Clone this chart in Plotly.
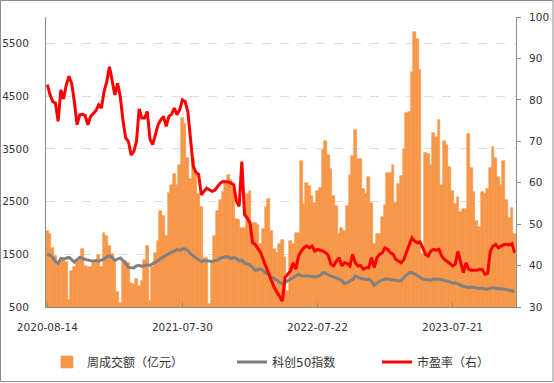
import pandas as pd
import plotly.graph_objects as go

# Weekly trading weeks (Friday-labelled), full-holiday weeks removed
SKIPPED_WEEKS = ["2022-02-04", "2022-10-07", "2023-01-27", "2023-10-06"]
weeks = [d.strftime("%Y-%m-%d") for d in pd.date_range("2020-08-14", "2024-01-05", freq="W-FRI")]
weeks = [w for w in weeks if w not in SKIPPED_WEEKS]

TICK_LABELS = ["2020-08-14", "2021-07-30", "2022-07-22", "2023-07-21"]

# 周成交额（亿元）
turnover = [
    1940, 1880, 1620, 1470, 1340, 1400, 1390, 1360, 640, 1190,
    1250, 1370, 1400, 1600, 1280, 1250, 1260, 1340, 1340, 1490,
    1250, 1910, 1850, 1650, 1510, 1340, 780, 580, 1380, 1380,
    1340, 950, 930, 1030, 900, 1000, 1400, 1650, 620, 1250,
    1530, 1750, 2320, 2230, 1850, 2660, 2820, 3020, 2810, 3200,
    4080, 3980, 3320, 2920, 3300, 3010, 2640, 2400, 1430, 1430,
    560, 1380, 1850, 2320, 2520, 2690, 2850, 3010, 2900, 2750,
    2160, 2150, 2000, 2000, 2650, 2700, 2100, 2100, 2060, 1700,
    1970, 2390, 2540, 1940, 1600, 1530, 1690, 1780, 1440, 800,
    1760, 1690, 1910, 1910, 3260, 2450, 2850, 2790, 2600, 2480,
    2700, 2760, 3480, 3640, 3390, 3120, 2600, 2410, 1880, 2000,
    1940, 2410, 3010, 3370, 3860, 3310, 3310, 2730, 2650, 2970,
    2480, 1690, 1880, 1890, 2200, 2440, 3040, 3040, 3200, 2480,
    2830, 2990, 3500, 4170, 4200, 4960, 5710, 5590, 4990, 1500,
    3420, 3400, 3200, 3800, 3730, 4050, 2820, 3650, 3580, 3160,
    2700, 2460, 2590, 2300, 2350, 2360, 3780, 3140, 2680, 2130,
    2020, 2680, 2650, 2730, 3140, 3530, 3320, 2970, 2820, 3270,
    2520, 2180, 2380, 1890,
]

# 科创50指数
star50 = [
    1500, 1480, 1440, 1360, 1330, 1420, 1410, 1430, 1440, 1400,
    1350, 1400, 1440, 1420, 1400, 1390, 1380, 1370, 1380, 1370,
    1390, 1410, 1450, 1470, 1440, 1380, 1410, 1430, 1380, 1330,
    1250, 1240, 1240, 1280, 1290, 1270, 1280, 1300, 1290, 1320,
    1340, 1380, 1420, 1450, 1490, 1510, 1540, 1560, 1590, 1570,
    1600, 1600, 1570, 1510, 1470, 1420, 1390, 1360, 1380, 1375,
    1370, 1365, 1380, 1390, 1425, 1440, 1455, 1450, 1420, 1437,
    1420, 1375, 1390, 1330, 1310, 1300, 1250, 1190, 1210, 1220,
    1190, 1140, 1120, 1070, 1040, 1000, 970, 940, 960, 1000,
    1030, 1060, 1090, 1120, 1090, 1090, 1100, 1090, 1080, 1070,
    1080, 1100, 1150, 1140, 1110, 1090, 1070, 1060, 1030, 1000,
    940, 960, 990, 1020, 1090, 1060, 1040, 1030, 1020, 1030,
    990, 910, 960, 990, 1010, 1030, 1030, 1020, 1010, 1000,
    1000, 1000, 1060, 1110, 1150, 1150, 1130, 1100, 1060, 1030,
    1020, 1020, 1010, 1030, 1030, 1030, 1020, 1000, 990, 980,
    950, 960, 940, 910, 890, 880, 870, 880, 870, 860,
    850, 860, 840, 840, 860, 870, 850, 850, 840, 840,
    830, 820, 810, 790,
]

# 市盈率（右）
pe = [
    83.7, 81.2, 79.6, 79.2, 74.8, 82.4, 80.2, 83.6, 85.7, 84.0,
    79.6, 74.0, 76.4, 76.5, 76.2, 74.0, 76.0, 76.8, 77.4, 78.8,
    78.0, 82.0, 84.4, 88.0, 84.4, 81.2, 84.0, 80.8, 75.0, 70.8,
    70.0, 66.7, 67.5, 70.0, 77.8, 75.6, 75.6, 77.2, 70.5, 69.2,
    71.6, 74.0, 75.2, 76.0, 73.6, 76.0, 76.5, 78.0, 76.4, 77.6,
    80.0, 79.6, 77.2, 70.0, 64.0, 62.5, 62.0, 57.1, 58.0, 58.7,
    58.3, 57.9, 58.2, 59.1, 59.9, 60.3, 60.3, 60.2, 59.9, 59.5,
    55.5, 54.3, 65.1, 52.3, 51.5, 50.3, 45.5, 45.1, 44.0, 43.1,
    41.3, 39.5, 37.9, 36.3, 34.7, 33.5, 32.3, 31.4, 37.1, 37.9,
    38.7, 40.7, 39.1, 42.3, 43.5, 44.3, 44.7, 44.3, 44.7, 43.5,
    43.9, 43.7, 43.5, 43.1, 42.5, 40.3, 39.9, 41.1, 41.9, 39.9,
    40.7, 40.5, 39.9, 42.7, 40.7, 39.9, 40.0, 39.1, 39.5, 39.5,
    41.9, 39.5, 41.9, 42.7, 43.1, 44.3, 43.9, 43.1, 42.7, 41.5,
    41.1, 40.7, 41.5, 43.5, 45.1, 46.7, 45.9, 45.5, 45.7, 44.3,
    42.7, 42.3, 43.5, 43.9, 43.7, 43.9, 42.3, 41.5, 41.1, 40.5,
    39.9, 40.3, 43.4, 40.7, 38.3, 40.7, 39.1, 38.9, 38.9, 38.9,
    39.1, 39.0, 37.9, 38.1, 43.5, 44.7, 45.1, 44.3, 44.7, 45.1,
    45.1, 45.0, 45.3, 43.1,
]

FONT = "DejaVu Sans, Noto Sans CJK SC, sans-serif"
AXIS_GREY = "#8a8a8a"
TEXT = "#333333"
ORANGE = "#F79646"

fig = go.Figure()
fig.add_trace(go.Bar(
    x=weeks, y=turnover, name="周成交额（亿元）",
    marker=dict(color=ORANGE, line=dict(width=0.6, color=ORANGE)),
    legend="legend", showlegend=True,
))
fig.add_trace(go.Scatter(
    x=weeks, y=star50, name="科创50指数", mode="lines",
    line=dict(color="#808080", width=3),
    legend="legend2", showlegend=True,
))
fig.add_trace(go.Scatter(
    x=weeks, y=pe, name="市盈率（右）", mode="lines",
    line=dict(color="#FF0000", width=3),
    yaxis="y2", legend="legend3", showlegend=True,
))

L, R, T, B = 46, 38, 17, 76
W, H = 554, 383
pw, ph = W - L - R, H - T - B

def px_x(p):
    return (p - L) / pw

def px_y(p):
    return (H - B - p) / ph

legend_common = dict(
    orientation="h", yanchor="middle", xanchor="left",
    font=dict(family=FONT, size=12, color=TEXT),
    bgcolor="rgba(0,0,0,0)", borderwidth=0,
)

fig.update_layout(
    width=W, height=H,
    margin=dict(l=L, r=R, t=T, b=B, autoexpand=False),
    paper_bgcolor="white", plot_bgcolor="white",
    showlegend=True,
    bargap=0,
    font=dict(family=FONT, size=10.5, color=TEXT),
    xaxis=dict(
        type="category", automargin=False,
        range=[-0.5, len(weeks) - 0.5],
        tickmode="array", tickvals=TICK_LABELS, ticktext=TICK_LABELS,
        ticks="inside", ticklen=4, tickcolor=AXIS_GREY,
        showline=True, linecolor=AXIS_GREY, linewidth=1,
        showgrid=False, zeroline=False,
        ticklabelstandoff=10,
        tickfont=dict(family=FONT, size=10.5, color=TEXT),
    ),
    yaxis=dict(
        automargin=False,
        range=[500, 6000], tick0=500, dtick=1000,
        showline=True, linecolor=AXIS_GREY, linewidth=1,
        ticks="", ticklabelstandoff=14,
        showgrid=True, gridcolor="#dedede", griddash="dash", gridwidth=1,
        zeroline=False,
        tickfont=dict(family=FONT, size=10.5, color=TEXT),
    ),
    yaxis2=dict(
        automargin=False,
        range=[30, 100], tick0=30, dtick=10, overlaying="y", side="right",
        showline=True, linecolor=AXIS_GREY, linewidth=1,
        ticks="outside", ticklen=4, tickcolor=AXIS_GREY,
        showgrid=False, zeroline=False, ticklabelstandoff=6,
        tickfont=dict(family=FONT, size=10.5, color=TEXT),
    ),
    legend=dict(x=px_x(47), y=px_y(362), **legend_common),
    legend2=dict(x=px_x(232), y=px_y(362), **legend_common),
    legend3=dict(x=px_x(377), y=px_y(362), **legend_common),
    shapes=[dict(
        type="rect", xref="paper", yref="paper",
        x0=px_x(0.5), x1=px_x(553), y0=px_y(381.5), y1=px_y(0.5),
        line=dict(color="#8c8c8c", width=1), fillcolor="rgba(0,0,0,0)",
        layer="below",
    )],
)

fig.write_html(
    "out.html",
    config={"displayModeBar": False},
    post_script="document.body.style.margin='0px';document.body.style.overflow='hidden';",
)
